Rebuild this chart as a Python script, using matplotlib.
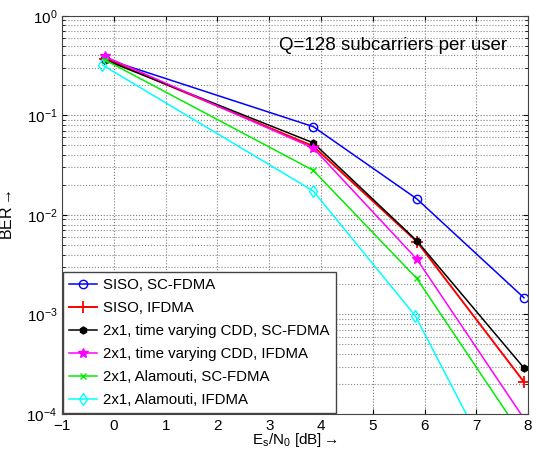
import numpy as np
import matplotlib
matplotlib.use('Agg')
import matplotlib.pyplot as plt

plt.rcParams['font.family'] = ['Liberation Sans', 'DejaVu Sans']
plt.rcParams['mathtext.fontset'] = 'custom'
plt.rcParams['mathtext.rm'] = 'Liberation Sans'
plt.rcParams['mathtext.it'] = 'Liberation Sans'

# Es/N0 points (dB)
snr = [-0.17, 3.85, 5.85, 7.92]
snr_cyan = [-0.22, 3.85, 5.82, 7.9]

# BER per curve
ber_siso_sc = [0.37, 0.077, 0.0145, 0.00147]
ber_siso_if = [0.37, 0.049, 0.0054, 0.00021]
ber_cdd_sc = [0.36, 0.053, 0.0055, 0.00029]
ber_cdd_if = [0.39, 0.047, 0.0036, 0.00009]
ber_ala_sc = [0.36, 0.028, 0.0023, 0.000057]
ber_ala_if = [0.32, 0.0174, 0.00097, 0.000008]

labels = ['SISO, SC-FDMA', 'SISO, IFDMA',
          '2x1, time varying CDD, SC-FDMA', '2x1, time varying CDD, IFDMA',
          '2x1, Alamouti, SC-FDMA', '2x1, Alamouti, IFDMA']

fig = plt.figure(figsize=(5.4, 4.51), dpi=100)
ax = fig.add_axes([0.115, 0.082, 0.863, 0.883])

ax.semilogy(snr, ber_siso_sc, '-o', color='#0000ff', mfc='none', ms=6, lw=1.1, label=labels[0])
ax.semilogy(snr, ber_siso_if, '-+', color='#ff0000', ms=8, mew=1.3, lw=1.4, label=labels[1])
ax.semilogy(snr, ber_cdd_sc, '-h', color='black', ms=5, lw=1.1, label=labels[2])
ax.semilogy(snr, ber_cdd_if, '-*', color='#ff00ff', ms=7, lw=1.1, label=labels[3])
ax.semilogy(snr, ber_ala_sc, '-x', color='#00ee00', ms=4, lw=1.1, label=labels[4])
ax.semilogy(snr_cyan, ber_ala_if, '-d', color='#00ffff', mfc='none', ms=6, lw=1.1, label=labels[5])

ax.set_xlim(-1, 8)
ax.set_ylim(1e-4, 1)
ax.set_xticks(range(-1, 9))
ax.grid(True, which='major', linestyle=':', color='#777777', lw=0.8)
ax.grid(True, which='minor', axis='y', linestyle=':', color='#888888', lw=0.8)
ax.tick_params(which='both', direction='in', top=True, right=True, labelsize=11)
for s in ax.spines.values():
    s.set_color('#444444')

ax.set_xlabel('E$_s$/N$_0$ [dB]$\\rightarrow$', fontsize=11, labelpad=-1)
ax.set_ylabel('BER$\\rightarrow$', fontsize=11.5, labelpad=8)

ax.text(0.955, 0.925, 'Q=128 subcarriers per user', transform=ax.transAxes,
        ha='right', va='center', fontsize=13.5)

leg = ax.legend(loc='lower left', fontsize=10.8, fancybox=False, framealpha=1,
                edgecolor='#444444', borderaxespad=0.05, handlelength=1.9,
                handletextpad=0.4, labelspacing=0.6)
leg.get_frame().set_linewidth(1.0)

fig.savefig('out.png', dpi=100)
